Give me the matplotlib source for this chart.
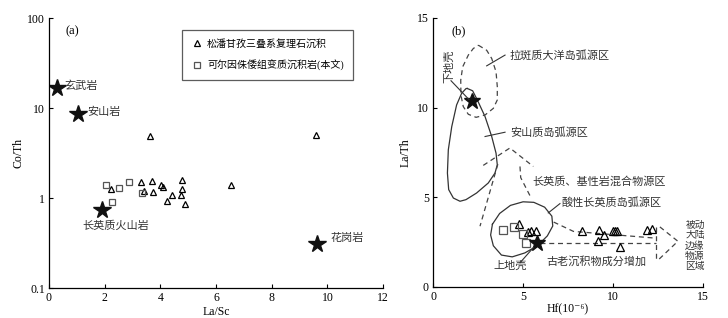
import matplotlib
matplotlib.use('Agg')
import matplotlib.pyplot as plt
import numpy as np
from matplotlib.ticker import FixedLocator, FixedFormatter

plt.rcParams['font.family'] = ['Liberation Serif', 'Noto Sans CJK SC', 'DejaVu Serif']
plt.rcParams['axes.unicode_minus'] = False

# ---------------- (a) La/Sc vs Co/Th ----------------
tri_lasc = [3.62, 9.60, 6.53, 2.22, 3.31, 3.41, 3.71, 3.74, 4.02, 4.11, 4.25, 4.43, 4.77, 4.78, 4.74, 4.88]
tri_coth = [4.84, 5.06, 1.41, 1.27, 1.52, 1.20, 1.56, 1.17, 1.38, 1.32, 0.93, 1.08, 1.57, 1.27, 1.08, 0.86]
sq_lasc = [2.05, 2.50, 2.89, 3.33, 2.26]
sq_coth = [1.38, 1.29, 1.52, 1.15, 0.895]
star_lasc = [0.30, 1.04, 1.90, 9.64]
star_coth = [16.8, 8.58, 0.736, 0.31]
star_names = ['玄武岩', '安山岩', '长英质火山岩', '花岗岩']
star_text_xy = [(0.55, 17.5), (1.37, 9.0), (1.2, 0.49), (10.1, 0.36)]

# ---------------- (b) Hf vs La/Th ----------------
tri_hf = [4.79, 5.25, 5.44, 5.72, 8.25, 9.21, 9.17, 9.51, 9.97, 10.10, 10.23, 10.38, 11.86, 12.14]
tri_lath = [3.54, 3.07, 3.11, 3.11, 3.11, 3.20, 2.56, 2.89, 3.11, 3.11, 3.11, 2.24, 3.17, 3.26]
sq_hf = [3.87, 4.50, 5.01, 5.16]
sq_lath = [3.20, 3.35, 2.94, 2.43]
star_hf = [2.15, 5.75]
star_lath = [10.37, 2.46]

# source-area outlines
andesite_x = [1.90, 2.20, 2.46, 2.89, 3.26, 3.50, 3.57, 3.44, 3.07, 2.42, 1.83, 1.50, 1.13, 0.87, 0.80, 0.85, 1.04, 1.31, 1.59, 1.83, 1.90]
andesite_y = [11.07, 10.94, 10.43, 9.50, 8.39, 7.46, 6.81, 6.35, 5.80, 5.24, 4.87, 4.78, 4.96, 5.43, 6.35, 7.65, 8.94, 10.15, 10.80, 11.06, 11.07]
tholeiite_x = [2.52, 2.98, 3.26, 3.50, 3.57, 3.57, 3.35, 2.89, 2.39, 1.96, 1.68, 1.55, 1.54, 1.65, 1.96, 2.24, 2.52]
tholeiite_y = [13.48, 13.20, 12.74, 12.00, 11.17, 10.43, 9.96, 9.59, 9.46, 9.63, 10.06, 10.70, 11.54, 12.28, 12.93, 13.30, 13.48]
felsic_x = [3.30, 3.70, 4.30, 5.00, 5.60, 6.20, 6.60, 6.65, 6.35, 5.80, 5.10, 4.40, 3.80, 3.35, 3.20, 3.30]
felsic_y = [3.50, 4.10, 4.55, 4.75, 4.72, 4.45, 3.95, 3.40, 2.85, 2.30, 1.90, 1.68, 1.78, 2.30, 2.90, 3.50]
mix_top_x = [2.79, 4.27, 5.57]
mix_top_y = [6.78, 7.75, 6.72]
mix_left_x = [3.60, 2.61]
mix_left_y = [6.85, 3.39]
mix_right_x = [4.83, 4.87, 5.38]
mix_right_y = [6.72, 6.10, 5.10]
pm_upper_x = [6.70, 7.80, 12.41]
pm_upper_y = [3.62, 3.10, 2.72]
pm_lower_x = [5.94, 12.41]
pm_lower_y = [2.45, 2.45]
pm_vert_x = [12.41, 12.41]
pm_vert_y = [3.35, 1.50]
pm_wedge_x = [12.60, 13.60, 12.50]
pm_wedge_y = [3.35, 2.55, 1.50]
pm_label = ['被动', '大陆', '边缘', '物源', '区域']
pm_label_y = [3.45, 2.86, 2.28, 1.70, 1.12]

fs = 8
fig = plt.figure(figsize=(7.28, 3.18), dpi=100)
ax1 = fig.add_axes([0.0673, 0.0943, 0.459, 0.849])
ax2 = fig.add_axes([0.5948, 0.0975, 0.371, 0.846])

for ax in (ax1, ax2):
    ax.spines['top'].set_visible(False)
    ax.spines['right'].set_visible(False)
    ax.spines['left'].set_linewidth(0.9)
    ax.spines['bottom'].set_linewidth(0.9)
    ax.tick_params(direction='in', length=3, width=0.8, labelsize=8.5, pad=3)

# panel a
ax1.set_yscale('log')
ax1.set_xlim(0, 12)
ax1.set_ylim(0.1, 100)
ax1.yaxis.set_major_locator(FixedLocator([0.1, 1, 10, 100]))
ax1.yaxis.set_major_formatter(FixedFormatter(['0.1', '1', '10', '100']))
ax1.yaxis.set_minor_locator(FixedLocator([]))
ax1.set_xticks(np.arange(0, 13, 2))
ax1.plot(tri_lasc, tri_coth, '^', ms=5, mfc='none', mec='k', mew=0.9, ls='none',
         label='松潘甘孜三叠系复理石沉积')
ax1.plot(sq_lasc, sq_coth, 's', ms=4.5, mfc='none', mec='#555555', mew=0.9, ls='none',
         label='可尔因侏倭组变质沉积岩(本文)')
ax1.plot(star_lasc, star_coth, '*', ms=13, color='#111111', ls='none')
for name, (tx, ty) in zip(star_names, star_text_xy):
    ax1.text(tx, ty, name, fontsize=fs, va='center', ha='left', color='#333333')
ax1.text(0.6, 72, '(a)', fontsize=9, va='center')
ax1.set_xlabel('La/Sc', fontsize=8.5, labelpad=1)
ax1.set_ylabel('Co/Th', fontsize=8.5, labelpad=2)
leg = ax1.legend(loc='upper left', bbox_to_anchor=(0.383, 0.975), fontsize=7.2,
                 frameon=True, fancybox=False, edgecolor='#333333', borderpad=0.9,
                 labelspacing=1.1, handletextpad=0.4, handlelength=1.2)
leg.get_frame().set_linewidth(0.9)

# panel b
ax2.set_xlim(0, 15)
ax2.set_ylim(0, 15)
ax2.set_xticks([0, 5, 10, 15])
ax2.set_yticks([0, 5, 10, 15])
ax2.plot(andesite_x, andesite_y, color='#333333', lw=0.9)
ax2.plot(felsic_x, felsic_y, color='#333333', lw=0.9)
dash = dict(color='#444444', lw=0.9, ls=(0, (4, 3)))
ax2.plot(tholeiite_x, tholeiite_y, **dash)
ax2.plot(mix_top_x, mix_top_y, **dash)
ax2.plot(mix_left_x, mix_left_y, **dash)
ax2.plot(mix_right_x, mix_right_y, **dash)
ax2.plot(pm_upper_x, pm_upper_y, **dash)
ax2.plot(pm_lower_x, pm_lower_y, **dash)
ax2.plot(pm_vert_x, pm_vert_y, **dash)
ax2.plot(pm_wedge_x, pm_wedge_y, **dash)

ax2.plot(tri_hf, tri_lath, '^', ms=6, mfc='none', mec='k', mew=0.9, ls='none')
ax2.plot(sq_hf, sq_lath, 's', ms=5.5, mfc='none', mec='#555555', mew=0.9, ls='none')
ax2.plot(star_hf, star_lath, '*', ms=12, color='#111111', ls='none')

lead = dict(color='#333333', lw=0.8)
ax2.plot([2.98, 4.0], [12.33, 12.93], **lead)
ax2.plot([2.89, 4.0], [8.39, 8.63], **lead)
ax2.plot([6.4, 7.05], [4.13, 4.65], **lead)
ax2.plot([4.83, 5.57], [1.35, 2.19], **lead)
ax2.plot([1.0, 2.0], [11.5, 10.45], **lead)

tc = '#333333'
ax2.text(1.0, 14.25, '(b)', fontsize=9, va='center')
ax2.text(4.27, 12.93, '拉斑质大洋岛弧源区', fontsize=fs, va='center', color=tc)
ax2.text(4.31, 8.61, '安山质岛弧源区', fontsize=fs, va='center', color=tc)
ax2.text(5.53, 5.89, '长英质、基性岩混合物源区', fontsize=fs, va='center', color=tc)
ax2.text(7.14, 4.72, '酸性长英质岛弧源区', fontsize=fs, va='center', color=tc)
ax2.text(4.3, 1.17, '上地壳', fontsize=fs, va='center', ha='center', color=tc)
ax2.text(9.08, 1.44, '古老沉积物成分增加', fontsize=fs, va='center', ha='center', color=tc)
ax2.text(0.92, 12.3, '下地壳', fontsize=fs, va='center', ha='center', rotation=90, color=tc)
for lab, ly in zip(pm_label, pm_label_y):
    ax2.text(14.55, ly, lab, fontsize=7, va='center', ha='center', color=tc)
ax2.set_xlabel('Hf(10⁻⁶)', fontsize=8.5)
ax2.xaxis.set_label_coords(0.5, -0.062)
ax2.set_ylabel('La/Th', fontsize=8.5, labelpad=4)

fig.savefig('out.png', dpi=100)
